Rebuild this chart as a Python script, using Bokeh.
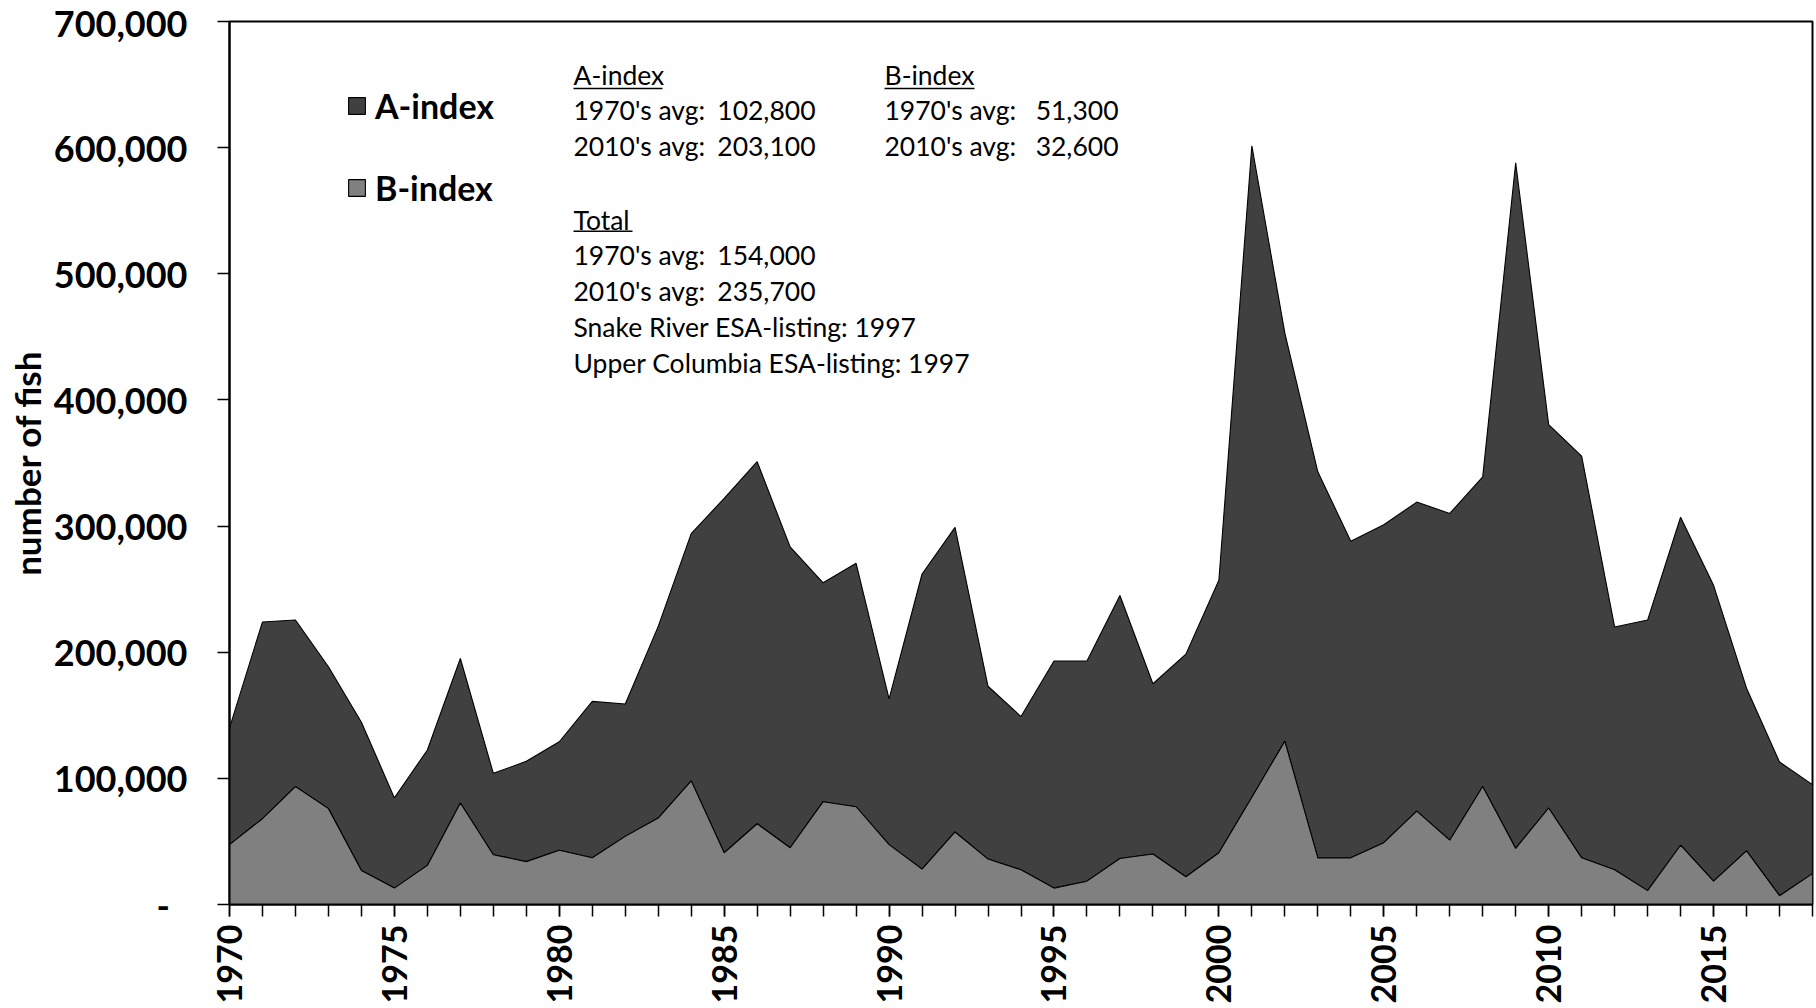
import numpy as np
from bokeh.plotting import figure
from bokeh.models import Range1d, FixedTicker, Legend, LegendItem, Label
from bokeh.embed import file_html
from bokeh.resources import INLINE

years = list(range(1970, 2019))
a_index = [92500, 156000, 132000, 112500, 117500, 71500, 91500, 114500, 64500, 79500,
           86000, 124000, 105000, 152000, 196000, 281000, 287000, 238500, 173500, 193000,
           115500, 234000, 241500, 137000, 121500, 180000, 174500, 208500, 135000, 176500,
           216000, 516500, 323500, 306000, 251000, 252000, 245000, 259000, 245500, 543500,
           304000, 318500, 192500, 214500, 260000, 234500, 129000, 106000, 70500]
b_index = [47500, 68000, 93500, 76000, 27000, 13000, 31000, 80500, 39500, 34000,
           43000, 37000, 54000, 68500, 98000, 41000, 64000, 45000, 81500, 77500,
           47500, 28000, 57500, 36000, 27500, 13000, 18500, 36500, 40000, 22000,
           41000, 85000, 129500, 37000, 37000, 49000, 74000, 51000, 93500, 44500,
           76500, 37000, 27500, 11000, 47000, 18500, 42500, 7000, 24500]
y_ticks = [0, 100000, 200000, 300000, 400000, 500000, 600000, 700000]
y_tick_labels = ["-\u00a0\u00a0", "100,000", "200,000", "300,000", "400,000", "500,000",
                 "600,000", "700,000"]
x_label_years = [1970, 1975, 1980, 1985, 1990, 1995, 2000, 2005, 2010, 2015]

notes_a = ["1970's avg:", "2010's avg:"]
notes_a_vals = ["102,800", "203,100"]
notes_b_vals = ["51,300", "32,600"]
notes_t_vals = ["154,000", "235,700"]
notes_extra = ["Snake River ESA-listing: 1997", "Upper Columbia ESA-listing: 1997"]

FONT = "Lato"

p = figure(width=1814, height=1006, output_backend="svg", toolbar_location=None,
           x_range=Range1d(1970, 2018), y_range=Range1d(0, 700000),
           min_border_left=229, min_border_right=2, min_border_top=21, min_border_bottom=101)
p.background_fill_color = "white"
p.border_fill_color = "white"
p.outline_line_color = "black"
p.outline_line_width = 2
p.xgrid.visible = False
p.ygrid.visible = False

xs = np.array(years, dtype=float)
a = np.array(a_index, dtype=float)
b = np.array(b_index, dtype=float)
tot = a + b

pa = p.patch(list(xs) + list(xs[::-1]), list(tot) + list(b[::-1]),
             fill_color="#404040", line_color="black", line_width=1.1)
pb = p.patch(list(xs) + list(xs[::-1]), list(b) + [0.0] * len(xs),
             fill_color="#808080", line_color="black", line_width=1.1)

# axes
p.yaxis.ticker = FixedTicker(ticks=y_ticks)
p.yaxis.major_label_overrides = {t: l for t, l in zip(y_ticks, y_tick_labels)}
p.xaxis.ticker = FixedTicker(ticks=x_label_years, minor_ticks=years)
for ax in (p.xaxis[0], p.yaxis[0]):
    ax.axis_line_color = "black"
    ax.axis_line_width = 2
    ax.major_tick_line_color = "black"
    ax.major_tick_line_width = 1.5
    ax.major_tick_out = 12
    ax.major_tick_in = 0
    ax.minor_tick_line_color = "black"
    ax.minor_tick_line_width = 1.5
    ax.minor_tick_out = 12
    ax.minor_tick_in = 0
    ax.major_label_text_font = FONT
    ax.major_label_text_font_style = "bold"
    ax.major_label_text_color = "black"
p.yaxis.major_label_text_font_size = "36px"
p.xaxis.major_label_text_font_size = "34px"
p.yaxis.minor_tick_line_color = None
p.yaxis.major_label_standoff = 30
p.xaxis.major_label_orientation = np.pi / 2
p.xaxis.major_label_standoff = 8
p.yaxis.axis_label = "number of fish"
p.yaxis.axis_label_text_font = FONT
p.yaxis.axis_label_text_font_style = "bold"
p.yaxis.axis_label_text_font_size = "35px"
p.yaxis.axis_label_text_color = "black"
p.yaxis.axis_label_standoff = 3

# legend
legend = Legend(items=[LegendItem(label="A-index", renderers=[pa]),
                       LegendItem(label="B-index", renderers=[pb])],
                location=(117, 696), glyph_width=21, glyph_height=21,
                label_text_font=FONT, label_text_font_style="bold",
                label_text_color="black",
                label_text_font_size="34px", label_standoff=8, spacing=41,
                padding=0, margin=0, border_line_color=None, background_fill_alpha=0)
p.add_layout(legend)


def dx(px):
    return 1970 + (px - 229) * 48 / (1812 - 229)


def dy(py):
    return (905 - py) * 700000 / (905 - 21)


def note(px, py, text, align="left"):
    p.add_layout(Label(x=dx(px), y=dy(py), text=text, text_font=FONT,
                       text_font_size="26.5px", text_color="black",
                       text_align=align, text_baseline="middle"))


def underline(px0, px1, py):
    p.segment(x0=[dx(px0)], y0=[dy(py)], x1=[dx(px1)], y1=[dy(py)],
              line_color="black", line_width=1.5)


# A-index block
note(573, 75, "A-index")
underline(573, 662, 88)
for i in range(2):
    note(573, 110 + 36 * i, notes_a[i])
    note(815, 110 + 36 * i, notes_a_vals[i], "right")
# B-index block
note(884, 75, "B-index")
underline(884, 974, 88)
for i in range(2):
    note(884, 110 + 36 * i, notes_a[i])
    note(1118, 110 + 36 * i, notes_b_vals[i], "right")
# Total block
note(573, 220, "Total")
underline(573, 632, 231)
for i in range(2):
    note(573, 255 + 36 * i, notes_a[i])
    note(815, 255 + 36 * i, notes_t_vals[i], "right")
for i in range(2):
    note(573, 327 + 36 * i, notes_extra[i])

open("out.html", "w").write(file_html(p, INLINE))
